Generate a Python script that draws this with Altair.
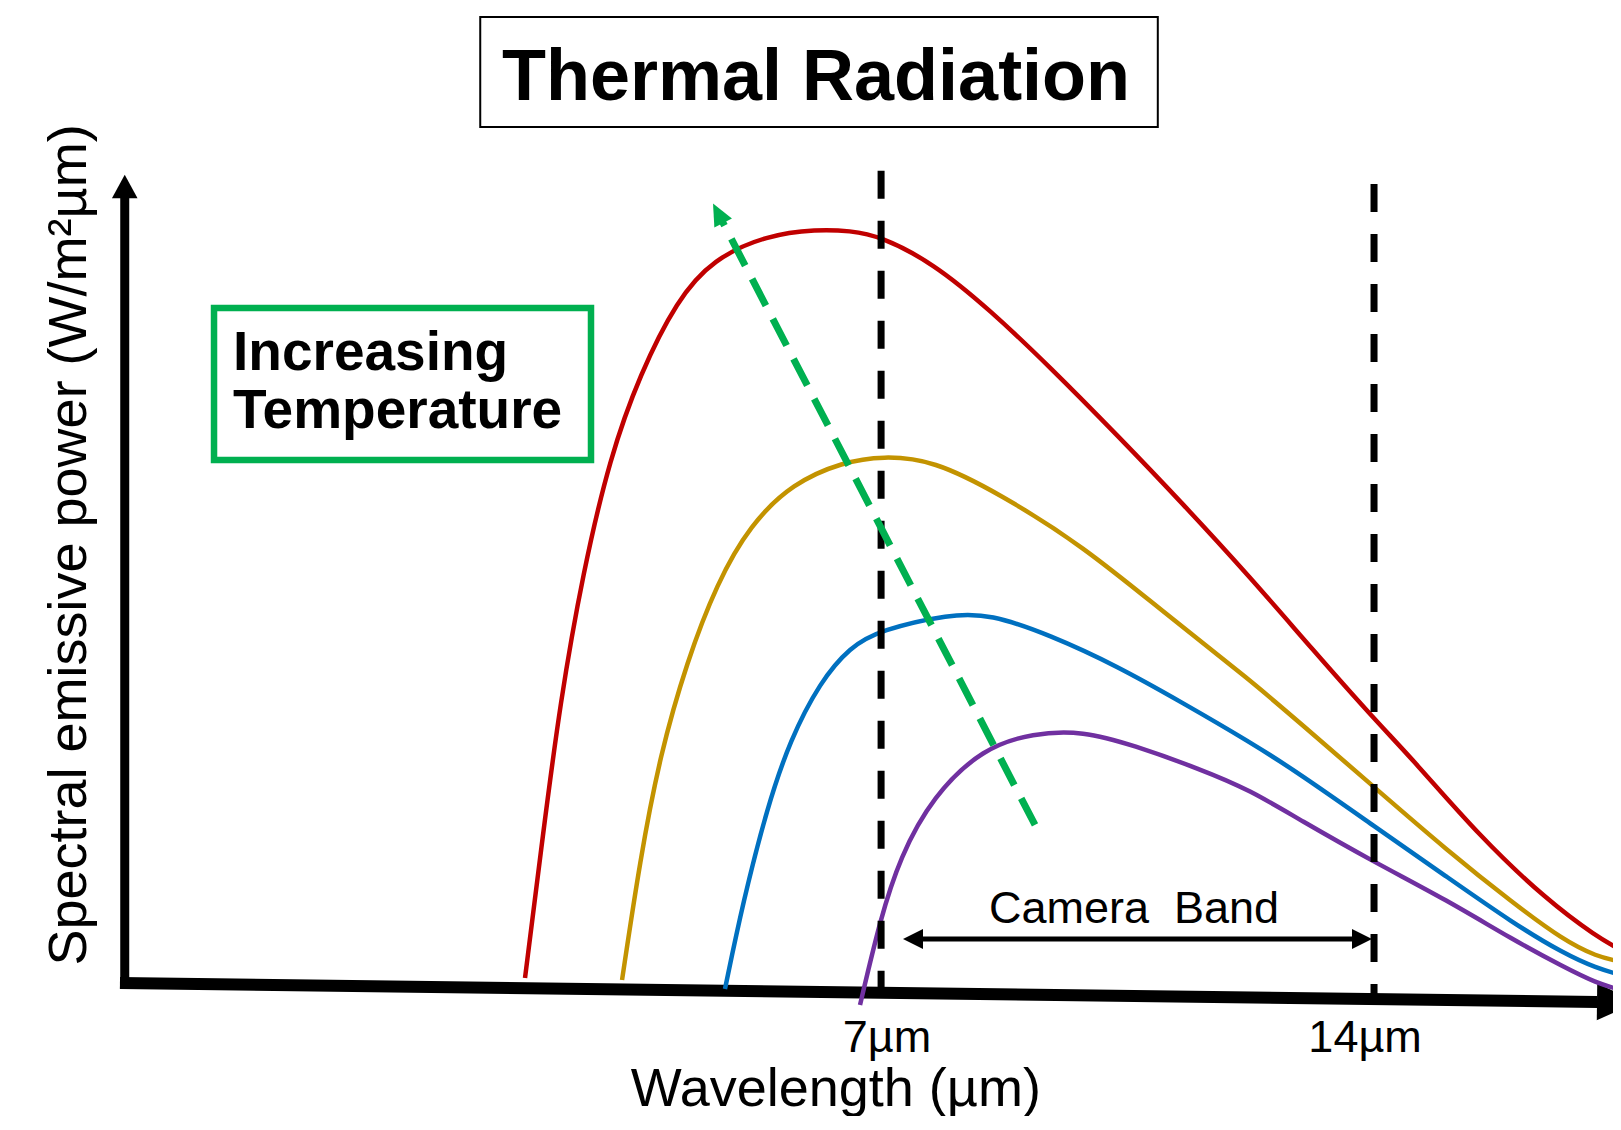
import altair as alt
import pandas as pd

# ---------------- data (wavelength in µm, relative spectral emissive power) ----------------
series_names = ["hottest", "hot", "warm", "cool"]
series_colors = ["#C00000", "#C39300", "#0070C0", "#7030A0"]

red_wl = [1.943, 2.199, 2.440, 2.767, 3.150, 3.576, 4.102, 4.613, 5.380, 6.090, 6.559, 6.985, 7.737,
          8.547, 9.399, 10.351, 11.288, 12.240, 13.134, 14.015, 14.559, 15.506, 16.454, 17.164, 17.509]
red_pw = [0.67, 19.87, 37.33, 54.8, 70.13, 81.2, 91.07, 96.53, 99.73, 100.5, 100.3, 99.6, 96.0,
          89.73, 82.13, 73.07, 63.87, 54.13, 44.4, 35.07, 29.73, 19.5, 11.07, 6.17, 4.4]

gold_wl = [3.321, 3.576, 3.860, 4.244, 4.670, 5.138, 5.749, 6.459, 7.027, 7.737, 8.689, 9.868, 11.061,
           12.240, 12.950, 14.001, 15.033, 15.979, 16.689, 17.164, 17.509]
gold_pw = [0.4, 16.4, 30.4, 42.93, 53.33, 61.07, 66.67, 69.47, 70.27, 69.73, 65.2, 58.27, 49.07,
           40.4, 34.67, 26.13, 17.73, 10.63, 5.73, 3.51, 2.84]

blue_wl = [4.783, 5.039, 5.380, 5.707, 6.133, 6.559, 6.985, 7.979, 8.547, 9.399, 10.351, 11.288,
           12.240, 12.950, 14.001, 15.033, 15.979, 16.689, 17.164, 17.509]
blue_pw = [-0.8, 10.8, 23.33, 32.4, 40.13, 44.8, 47.07, 49.2, 49.2, 46.4, 42.27, 37.33,
           32.13, 27.87, 20.93, 14.17, 7.96, 3.96, 1.96, 1.07]

purple_wl = [6.701, 6.985, 7.269, 7.737, 8.448, 9.158, 9.868, 10.578, 11.530, 12.240, 12.950,
             14.001, 15.033, 15.979, 16.689, 17.164, 17.509]
purple_pw = [-2.93, 8.4, 16.8, 24.93, 31.33, 33.33, 33.6, 31.73, 28.53, 25.73, 21.73,
             16.13, 11.07, 5.73, 2.17, -0.04, -0.93]

# annotation geometry in data units
x_axis_seg = [-3.81, 0.0, 17.17, -2.53]          # x, y, x2, y2
x_axis_head = [17.452, -2.53]
y_axis_seg = [-3.742, -0.8, -3.742, 104.67]
y_axis_head = [-3.742, 106.2]
band_edges = [7.0, 14.001]
band_tops = [108.3, 106.53]
band_bottoms = [-1.0, -2.0]
green_seg = [9.186, 21.07, 4.744, 101.56]
green_head = [4.685, 102.63]
camera_seg = [7.595, 5.87, 13.688, 5.87]
camera_heads_x = [7.453, 13.830]
camera_heads_y = [5.87, 5.87]
title_box = [1.307, 128.8, 10.93, 114.13]         # x, y, x2, y2
green_box = [-2.474, 90.0, 2.880, 69.73]

title_text = "Thermal Radiation"
title_pos = [6.076, 117.73]
box_lines = ["Increasing", "Temperature"]
box_lines_x = [-2.204, -2.204]
box_lines_y = [81.73, 74.0]
ylabel_text = "Spectral emissive power (W/m²µm)"
ylabel_pos = [-4.292, 58.4]
xlabel_text = "Wavelength (µm)"
xlabel_pos = [6.357, -16.4]
tick_labels = ["7µm", "14µm"]
tick_x = [7.083, 13.874]
tick_y = [-9.2, -9.2]
camera_text = "Camera\u00a0 Band"
camera_pos = [10.592, 8.0]

FONT = "Liberation Sans"

# ---------------- build tables ----------------
rows = []
for name, wl, pw in zip(series_names, [red_wl, gold_wl, blue_wl, purple_wl],
                        [red_pw, gold_pw, blue_pw, purple_pw]):
    for a, b in zip(wl, pw):
        rows.append({"series": name, "wl": a, "pw": b})
curves = pd.DataFrame(rows)

xs = alt.Scale(domain=[-5.4, 17.395], nice=False, zero=False)
ys = alt.Scale(domain=[-17.733, 130], nice=False, zero=False)


def X(f):
    return alt.X(f, type="quantitative", scale=xs, axis=None)


def Y(f):
    return alt.Y(f, type="quantitative", scale=ys, axis=None)


def seg_df(s):
    return pd.DataFrame({"x": [s[0]], "y": [s[1]], "x2": [s[2]], "y2": [s[3]]})


def seg(s, **style):
    return alt.Chart(seg_df(s)).mark_rule(**style).encode(
        x=X("x"), y=Y("y"), x2="x2:Q", y2="y2:Q")


def head(xv, yv, shape, size, color, angle=0):
    df = pd.DataFrame({"x": xv, "y": yv})
    return alt.Chart(df).mark_point(shape=shape, size=size, filled=True, opacity=1,
                                    color=color, strokeWidth=0, angle=angle).encode(
        x=X("x"), y=Y("y"))


def text(lines, xv, yv, **style):
    df = pd.DataFrame({"t": lines, "x": xv, "y": yv})
    return alt.Chart(df).mark_text(font=FONT, color="black", baseline="alphabetic", **style).encode(
        x=X("x"), y=Y("y"), text="t:N")


layers = []
# axes
layers.append(seg(x_axis_seg, strokeWidth=12, color="black"))
layers.append(head([x_axis_head[0]], [x_axis_head[1]], "M-1,-0.925 L1,0 L-1,0.925 Z", 1600, "black", 0.7))
layers.append(seg(y_axis_seg, strokeWidth=9, color="black"))
layers.append(head([y_axis_head[0]], [y_axis_head[1]], "M0,-0.91 L1,0.91 L-1,0.91 Z", 655, "black"))

# curves
layers.append(alt.Chart(curves).mark_line(strokeWidth=4.5, interpolate="basis").encode(
    x=X("wl"), y=Y("pw"),
    color=alt.Color("series:N", scale=alt.Scale(domain=series_names, range=series_colors), legend=None)))

# camera band dashed edges
band_df = pd.DataFrame({"x": band_edges, "y": band_tops, "y2": band_bottoms})
layers.append(alt.Chart(band_df).mark_rule(strokeWidth=7, color="black", strokeDash=[28, 22]).encode(
    x=X("x"), y=Y("y"), y2="y2:Q"))

# green dashed arrow
layers.append(seg(green_seg, strokeWidth=7, color="#00B050", strokeDash=[30, 15]))
layers.append(head([green_head[0]], [green_head[1]], "M0,-1 L0.9,1 L-0.9,1 Z", 484, "#00B050", 332.6))

# camera band double arrow
layers.append(seg(camera_seg, strokeWidth=5, color="black"))
layers.append(head([camera_heads_x[0]], [camera_heads_y[0]], "M1,-1 L-1,0 L1,1 Z", 400, "black"))
layers.append(head([camera_heads_x[1]], [camera_heads_y[1]], "M-1,-1 L1,0 L-1,1 Z", 400, "black"))

# boxes
tb = pd.DataFrame({"x": [title_box[0]], "y": [title_box[1]], "x2": [title_box[2]], "y2": [title_box[3]]})
layers.append(alt.Chart(tb).mark_rect(fillOpacity=0, stroke="black", strokeWidth=2).encode(
    x=X("x"), y=Y("y"), x2="x2:Q", y2="y2:Q"))
gb = pd.DataFrame({"x": [green_box[0]], "y": [green_box[1]], "x2": [green_box[2]], "y2": [green_box[3]]})
layers.append(alt.Chart(gb).mark_rect(fillOpacity=0, stroke="#00B050", strokeWidth=6.5).encode(
    x=X("x"), y=Y("y"), x2="x2:Q", y2="y2:Q"))

# texts
layers.append(text([title_text], [title_pos[0]], [title_pos[1]], fontSize=72, fontWeight="bold", align="center"))
layers.append(text(box_lines, box_lines_x, box_lines_y, fontSize=55, fontWeight="bold", align="left"))
layers.append(text([ylabel_text], [ylabel_pos[0]], [ylabel_pos[1]], fontSize=54, align="center", angle=270))
layers.append(text([xlabel_text], [xlabel_pos[0]], [xlabel_pos[1]], fontSize=54, align="center"))
layers.append(text(tick_labels, tick_x, tick_y, fontSize=45, align="center"))
layers.append(text([camera_text], [camera_pos[0]], [camera_pos[1]], fontSize=45, align="center"))

chart = alt.layer(*layers).properties(
    width=1605, height=1108,
    autosize=alt.AutoSizeParams(type="none"),
    padding=0,
    background="white",
).configure_view(strokeWidth=0)

chart.save("out.html", embed_options={"renderer": "svg", "actions": False})
